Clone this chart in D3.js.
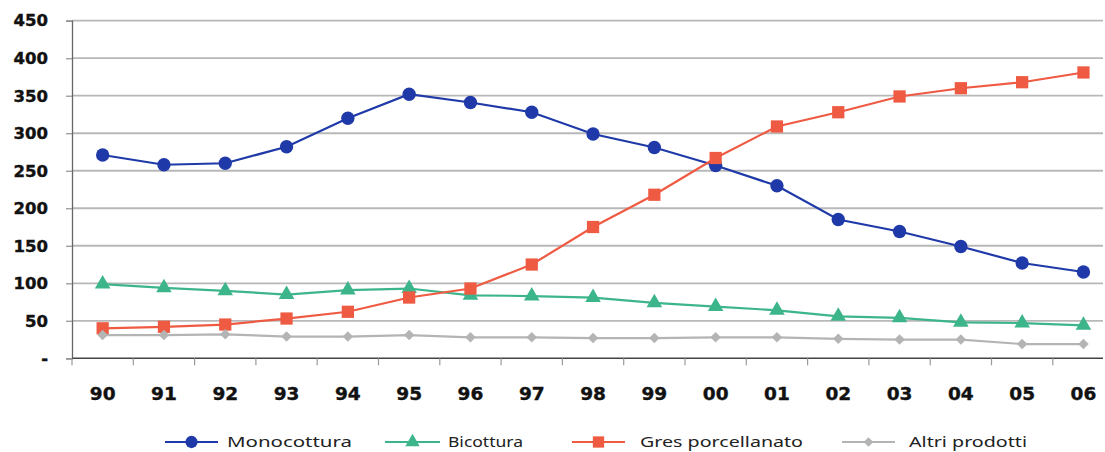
<!DOCTYPE html>
<html>
<head>
<meta charset="utf-8">
<script src="https://cdn.jsdelivr.net/npm/d3@7"></script>
<style>
  html, body { margin: 0; padding: 0; background: #fff; }
  svg { display: block; }
</style>
</head>
<body>
<svg id="chart" width="1105" height="452"></svg>
<script>
// Years (two-digit labels) on the category axis
const categories = ["90","91","92","93","94","95","96","97","98","99","00","01","02","03","04","05","06"];

// Production by product type
const monocottura = [271, 258, 260, 282, 320, 352, 341, 328, 299, 281, 257, 230, 185, 169, 149, 127, 115];
const bicottura   = [99, 94, 90, 85, 91, 93, 84, 83, 81, 74, 69, 64, 56, 54, 48, 47, 44];
const gres        = [40, 42, 45, 53, 62, 81, 93, 125, 175, 218, 267, 309, 328, 349, 360, 368, 381];
const altri       = [31, 31, 32, 29, 29, 31, 28, 28, 27, 27, 28, 28, 26, 25, 25, 19, 19];

const yTicks = [0, 50, 100, 150, 200, 250, 300, 350, 400, 450];
const seriesNames = ["Monocottura", "Bicottura", "Gres porcellanato", "Altri prodotti"];

const series = [
  { name: seriesNames[0], values: monocottura, color: "#1f3aa8", symbol: d3.symbolCircle,   size: 140, rot: 0 },
  { name: seriesNames[1], values: bicottura,   color: "#3db58b", symbol: d3.symbolTriangle, size: 105, rot: 0 },
  { name: seriesNames[2], values: gres,        color: "#ef5a43", symbol: d3.symbolSquare,   size: 150, rot: 0 },
  { name: seriesNames[3], values: altri,       color: "#b4b4b4", symbol: d3.symbolSquare,   size: 55,  rot: 45 }
];

const svg = d3.select("#chart");
svg.append("rect").attr("width", 1105).attr("height", 452).attr("fill", "#fff");

const plotLeft = 72, plotBottom = 358.3, plotTop = 20.7, step = 61.3;
const x = d3.scaleBand().domain(categories).range([plotLeft, plotLeft + step * categories.length]).padding(0);
const cx = c => x(c) + x.bandwidth() / 2;
const y = d3.scaleLinear().domain([0, 450]).range([plotBottom, plotTop]);

// Horizontal gridlines
svg.append("g")
  .selectAll("line")
  .data(yTicks.filter(d => d > 0))
  .join("line")
  .attr("x1", plotLeft).attr("x2", 1103)
  .attr("y1", d => y(d)).attr("y2", d => y(d))
  .attr("stroke", "#b8b8b8").attr("stroke-width", 1.8);

// Y axis
const yAxis = svg.append("g")
  .attr("transform", `translate(${plotLeft},0)`)
  .call(d3.axisLeft(y).tickValues(yTicks).tickSize(6).tickPadding(18)
    .tickFormat(d => d === 0 ? "-" : d));
yAxis.select(".domain").attr("stroke", "#666").attr("stroke-width", 1.3);
yAxis.selectAll(".tick line").attr("stroke", "#999").attr("stroke-width", 1.3);
yAxis.selectAll(".tick text")
  .attr("font-family", "DejaVu Sans, sans-serif")
  .attr("font-weight", "bold")
  .attr("font-size", 16.5)
  .attr("fill", "#111")
  .attr("stroke", "#111")
  .attr("stroke-width", 0.4)
  .attr("x", -24);

// X axis: tick marks sit between the year labels
const xg = svg.append("g");
xg.append("line")
  .attr("x1", plotLeft).attr("x2", 1103)
  .attr("y1", plotBottom).attr("y2", plotBottom)
  .attr("stroke", "#444").attr("stroke-width", 1.5);
xg.selectAll("line.tick")
  .data(categories)
  .join("line")
  .attr("class", "tick")
  .attr("x1", d => x(d)).attr("x2", d => x(d))
  .attr("y1", plotBottom).attr("y2", plotBottom + 7)
  .attr("stroke", "#999").attr("stroke-width", 1.2);
xg.selectAll("text")
  .data(categories)
  .join("text")
  .attr("x", d => cx(d))
  .attr("y", 400)
  .attr("text-anchor", "middle")
  .attr("font-family", "DejaVu Sans, sans-serif")
  .attr("font-weight", "bold")
  .attr("font-size", 18.5)
  .attr("fill", "#111")
  .attr("stroke", "#111")
  .attr("stroke-width", 0.4)
  .text(d => d);

// Series lines and markers
const line = d3.line().x((d, i) => cx(categories[i])).y(d => y(d));
series.forEach(s => {
  const g = svg.append("g");
  g.append("path")
    .datum(s.values)
    .attr("d", line)
    .attr("fill", "none")
    .attr("stroke", s.color)
    .attr("stroke-width", 2.2);
  g.selectAll("path.m")
    .data(s.values)
    .join("path")
    .attr("class", "m")
    .attr("transform", (d, i) => `translate(${cx(categories[i])},${y(d)}) rotate(${s.rot})`)
    .attr("d", d3.symbol(s.symbol, s.size))
    .attr("fill", s.color);
});

// Legend
const legendPos = [
  { x0: 165, x1: 218, tx: 227, tw: 125 },
  { x0: 385, x1: 440, tx: 448, tw: 75 },
  { x0: 572, x1: 625, tx: 640, tw: 163 },
  { x0: 842, x1: 895, tx: 909, tw: 118 }
];
const legend = svg.append("g");
series.forEach((s, i) => {
  const p = legendPos[i];
  const ly = 442;
  legend.append("line")
    .attr("x1", p.x0).attr("x2", p.x1)
    .attr("y1", ly).attr("y2", ly)
    .attr("stroke", s.color).attr("stroke-width", 2.2);
  legend.append("path")
    .attr("transform", `translate(${(p.x0 + p.x1) / 2},${ly}) rotate(${s.rot})`)
    .attr("d", d3.symbol(s.symbol, s.size * 0.85))
    .attr("fill", s.color);
  legend.append("text")
    .attr("x", p.tx).attr("y", 447)
    .attr("font-family", "Noto Sans, sans-serif")
    .attr("font-size", 15)
    .attr("fill", "#222")
    .attr("textLength", p.tw)
    .attr("lengthAdjust", "spacingAndGlyphs")
    .text(s.name);
});
</script>
</body>
</html>
